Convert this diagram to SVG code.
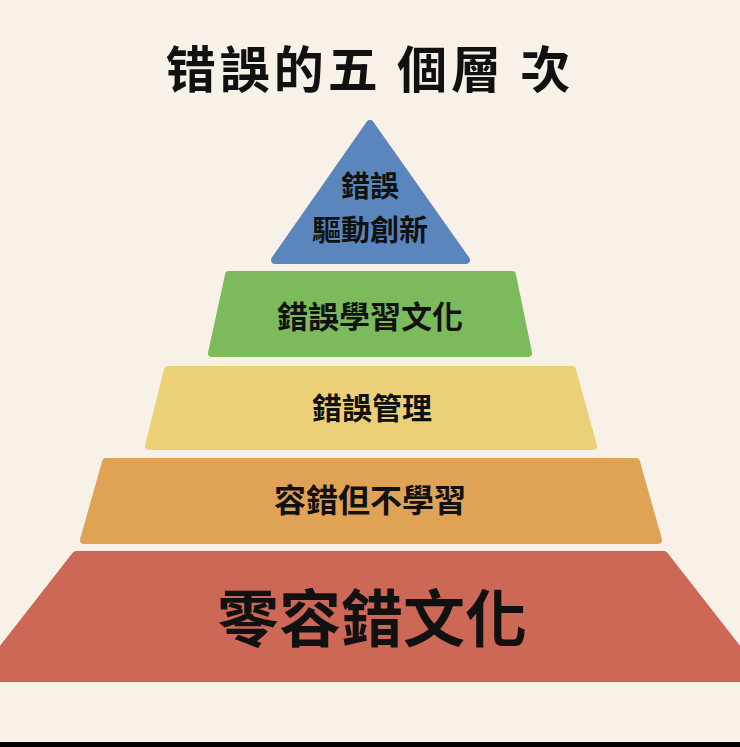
<svg xmlns="http://www.w3.org/2000/svg" width="740" height="747" viewBox="0 0 740 747">
<style>
text{font-family:"Noto Sans CJK TC","Noto Sans CJK SC",sans-serif;font-weight:bold;fill:#111;text-anchor:middle}
.l{stroke-linejoin:round;stroke-width:8}
</style>
<rect width="740" height="747" fill="#f8f1e7"/>
<rect y="742" width="740" height="5" fill="#000"/>
<text x="370" y="88" font-size="50" letter-spacing="4">错誤的五 個層 次</text>
<g id="level5"><path class="l" d="M370 124 L466 260 L275 260 Z" fill="#5b86bd" stroke="#5b86bd"/>
<text x="370" y="197" font-size="29">錯誤</text><text x="370" y="241" font-size="29">驅動創新</text></g>
<g id="level4"><path class="l" d="M229 275 L512 275 L528 353 L212 353 Z" fill="#7cba5b" stroke="#7cba5b"/>
<text x="370" y="328" font-size="31">錯誤學習文化</text></g>
<g id="level3"><path class="l" d="M168 370 L572 370 L593 446 L149 446 Z" fill="#ecd077" stroke="#ecd077"/>
<text x="372" y="419" font-size="30">錯誤管理</text></g>
<g id="level2"><path class="l" d="M106 462 L636 462 L658 540 L84 540 Z" fill="#e0a254" stroke="#e0a254"/>
<text x="370" y="512" font-size="32">容錯但不學習</text></g>
<g id="level1"><path class="l" d="M76 555 L664 555 L760 678 L-20 678 Z" fill="#cd6756" stroke="#cd6756"/>
<text x="372" y="642" font-size="62">零容錯文化</text></g>
<g id="connectors"/>
</svg>
